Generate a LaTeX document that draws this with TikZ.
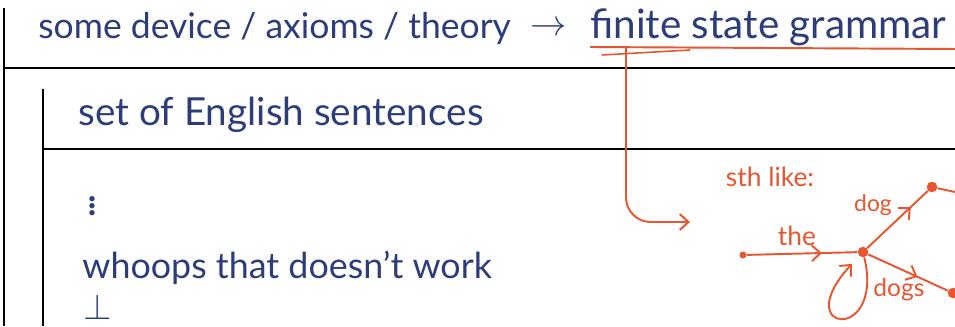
\documentclass[tikz,border=0pt]{standalone}
\usepackage{fontspec}
\setmainfont{Lato}
\usetikzlibrary{arrows.meta,calc,decorations.markings}
\definecolor{ink}{HTML}{2C3D7A}
\definecolor{pen}{HTML}{E9552F}
\newcommand{\pt}[1]{\fontsize{#1}{#1}\selectfont}
\tikzset{
  hand/.style={ink,font=\pt{#1},inner sep=0pt},
  hand/.default=20,
  note/.style={pen,font=\pt{#1},inner sep=0pt},
  note/.default=15,
  state/.style={circle,fill=pen,inner sep=0pt,minimum size=#1},
  state/.default=5pt,
  edge/.style={pen,line width=1.1pt},
  midarrow/.style={postaction={decorate},decoration={markings,
    mark=at position #1 with {\arrow{Straight Barb[length=5pt,width=9pt]}}}}
}

\begin{document}
\begin{tikzpicture}
\useasboundingbox (0,0) rectangle (19.1,6.52);
% frames
\draw[line width=1.1pt] (.08,6.36)--(.08,0) (.08,5.16)--(19.1,5.16);
\draw[line width=1.1pt] (.86,4.74)--(.86,0) (.86,3.54)--(19.1,3.54);
% texts
\node[hand=20.2,anchor=west] (dev) at (.76,5.96){some device / axioms / theory};
\node[hand] (to) at (10.98,5.94){$\rightarrow$};
\node[hand=23,anchor=west] (fsg) at (11.8,5.98){finite state grammar};
\node[hand=22,anchor=west] (set) at (1.56,4.22){set of English sentences};
\node[hand=24] (dots) at (1.84,2.5){$\vdots$};
\node[hand=20.4,anchor=west] (oops) at (1.64,1.16){whoops that doesn't work};
\node[hand=22] (bot) at (1.96,.38){$\bot$};
% underline and pointer
\draw[edge] (11.8,5.58)--(19.1,5.54);
\draw[edge,line width=.9pt] (12.04,5.42)--(13.8,5.52);
\coordinate (ul) at (12.52,5.58);\coordinate (tip) at (13.8,2.08);
\draw[edge,rounded corners=14pt,-{Straight Barb[length=5pt,width=9pt]}] (ul) |- (tip);
\node[note] (like) at (15.4,2.98){sth like:};
% automaton
\node[state=4pt] (s0) at (14.86,1.42){};
\node[state=6pt] (s1) at (17.26,1.48){};
\node[state=6pt] (s2) at (18.64,2.78){};
\node[state=6pt] (s3) at (19.06,.66){};
\coordinate (out) at (19.1,2.68);
\draw[edge,midarrow=.68] (s0)--(s1);
\draw[edge,midarrow=.72] (s1)--(s2);
\draw[edge,midarrow=.62] (s1)--(s3);
\draw[edge] (s2)--(out);
\draw[edge,shorten >=6pt,-{Straight Barb[length=5pt,width=9pt]}] (s1) .. controls (17.7,-.35) and (15.75,-.15) .. (s1);
\node[note] (the) at (15.94,1.8){the};
\node[note=13] (dog) at (17.46,2.42){dog};
\node[note=14] (dogs) at (17.98,.72){dogs};
\end{tikzpicture}
\end{document}
